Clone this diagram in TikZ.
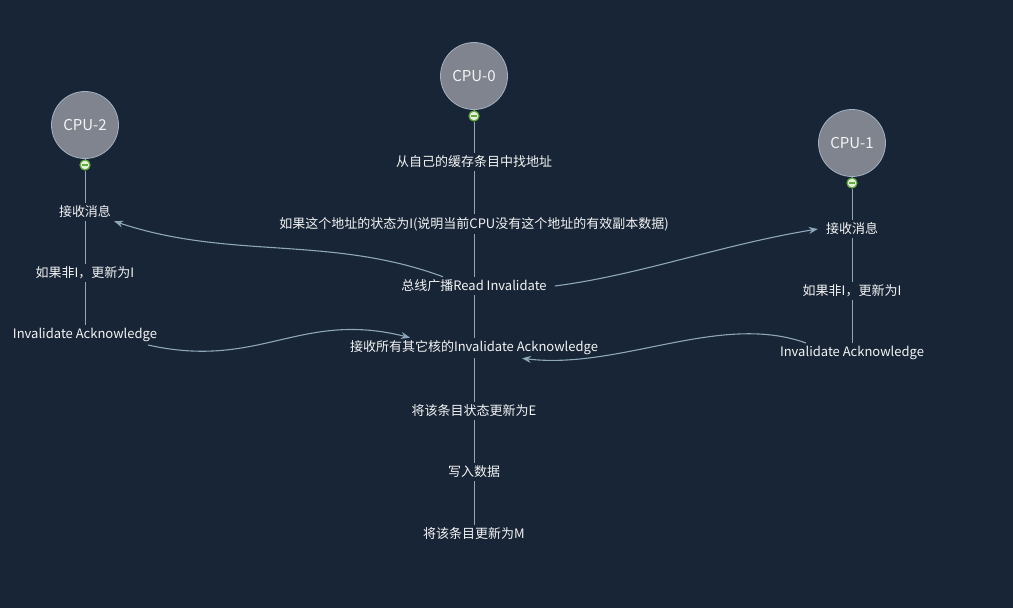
\documentclass[tikz,border=0pt]{standalone}
\usepackage{fontspec}
\setmainfont{Noto Sans CJK SC}
\usetikzlibrary{arrows.meta,positioning,calc}
\definecolor{mbg}{HTML}{172536}
\definecolor{mline}{HTML}{8EA7B9}
\definecolor{mcpu}{HTML}{7F848E}
\definecolor{mring}{HTML}{A2B2C1}
\definecolor{mgreen}{HTML}{62AA3C}
\definecolor{mpale}{HTML}{E6EFDA}
\definecolor{mtext}{HTML}{F4F4F4}

\begin{document}
\begin{tikzpicture}[x=1pt,y=-1pt,
  every node/.style={font=\fontsize{13}{15}\selectfont,text=mtext,inner sep=3pt},
  cpu/.style={circle,fill=mcpu,draw=mring,line width=0.8pt,minimum size=67pt,inner sep=0pt,font=\fontsize{15}{18}\selectfont},
  fold/.style={circle,draw=mgreen,fill=mpale,line width=1.2pt,minimum size=10pt,inner sep=0pt,
    path picture={\draw[mgreen,line width=1.6pt] ([xshift=-3pt]path picture bounding box.center) -- ([xshift=3pt]path picture bounding box.center);}},
  link/.style={mline,line width=0.9pt},
  msg/.style={mline,line width=1.1pt,-{Stealth[length=9pt,width=7pt]}}]
  \fill[mbg] (0,0) rectangle (1013,608);

  % CPU-0
  \node[cpu]  (c0) at (474,76)  {CPU-0};
  \node[fold] (f0) at (474,116) {};
  \node (find)   at (474,162) {从自己的缓存条目中找地址};
  \node (check)  at (474,224) {如果这个地址的状态为I(说明当前CPU没有这个地址的有效副本数据)};
  \node (bus)    at (474,286) {总线广播Read Invalidate};
  \node (allack) at (474,348) {接收所有其它核的Invalidate Acknowledge};
  \node (toE)    at (474,411) {将该条目状态更新为E};
  \node (write)  at (474,472) {写入数据};
  \node (toM)    at (474,534) {将该条目更新为M};

  % CPU-2
  \node[cpu]  (c2) at (85,125) {CPU-2};
  \node[fold] (f2) at (85,165) {};
  \node (recv2) at (85,212) {接收消息};
  \node (inv2)  at (85,273) {如果非I，更新为I};
  \node (ack2)  at (85,335) {Invalidate Acknowledge};

  % CPU-1
  \node[cpu]  (c1) at (852,143) {CPU-1};
  \node[fold] (f1) at (852,183) {};
  \node (recv1) at (852,229) {接收消息};
  \node (inv1)  at (852,291) {如果非I，更新为I};
  \node (ack1)  at (852,353) {Invalidate Acknowledge};

  \draw[link] (c0) -- (f0) -- (find) -- (check) -- (bus) -- (allack) -- (toE) -- (write) -- (toM);
  \draw[link] (c2) -- (f2) -- (recv2) -- (inv2) -- (ack2);
  \draw[link] (c1) -- (f1) -- (recv1) -- (inv1) -- (ack1);

  % messages between cores
  \draw[msg] ([xshift=-31pt]bus.north) .. controls (330,235) and (230,260) .. (recv2.south east);
  \draw[msg] ([xshift=5pt]bus.east) .. controls (640,275) and (720,245) .. ([xshift=-5pt]recv1.west);
  \draw[msg] ([xshift=63pt]ack2.south) .. controls (260,370) and (300,310) .. ([xshift=-64pt]allack.north);
  \draw[msg] ([xshift=-46pt]ack1.north) .. controls (720,312) and (620,370) .. ([xshift=48pt]allack.south);
\end{tikzpicture}
\end{document}
